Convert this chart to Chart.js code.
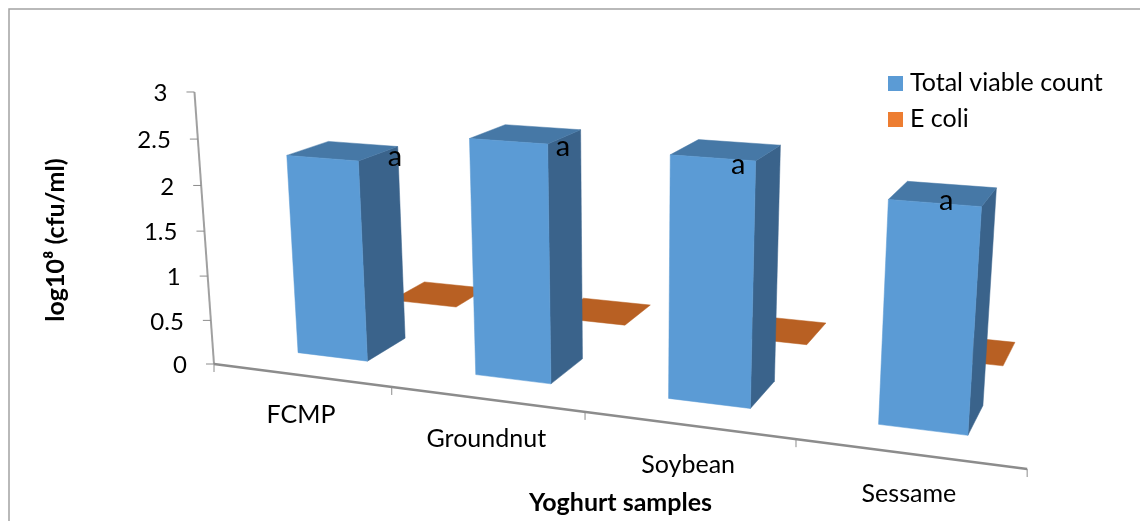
<!DOCTYPE html>
<html>
<head>
<meta charset="utf-8">
<title>Yoghurt samples</title>
<script src="https://cdn.jsdelivr.net/npm/chart.js@4"></script>
<style>
  html, body { margin: 0; padding: 0; background: #fff; }
  canvas { display: block; }
</style>
</head>
<body>
<canvas id="yoghurt-chart" width="1140" height="521"></canvas>
<script>
const categories = ["FCMP", "Groundnut", "Soybean", "Sessame"];
const totalViable = [2.25, 2.58, 2.56, 2.28];
const eColi = [0, 0, 0, 0];
const barLetters = ["a", "a", "a", "a"];

// pixel nudges of the letters from the middle of each bar top
const letterNudge = [[52, 6], [37, 13], [12, 15], [3, 7]];

// depth rows of the two series on the floor, front and back
const depthRows = { total: [0.355, 0.83], coli: [1.55, 2.03] };

const FONT = "Lato";
const AXIS_GREY = "#8c8c8c";

// perspective camera: u = category units, v = value, d = depth
function project(u, v, d) {
  const w = 1 - 0.0402 * u - 0.015 * v + 0.1 * d;
  return {
    x: (214 + 162 * u - 9.43 * v + (122 + 2 * (u - 1.5)) * d) / w,
    y: (364 + 7.4 * u - 92.05 * v - 15 * d) / w,
  };
}

function face(ctx, pts, color) {
  ctx.beginPath();
  pts.forEach((p, i) => (i ? ctx.lineTo(p.x, p.y) : ctx.moveTo(p.x, p.y)));
  ctx.closePath();
  ctx.fillStyle = color;
  ctx.strokeStyle = color;
  ctx.lineWidth = 0.5;
  ctx.fill();
  ctx.stroke();
}

function line(ctx, a, b, width, color) {
  ctx.beginPath();
  ctx.moveTo(a.x, a.y);
  ctx.lineTo(b.x, b.y);
  ctx.lineWidth = width;
  ctx.strokeStyle = color;
  ctx.stroke();
}

function text(ctx, str, x, y, font, align) {
  ctx.font = font;
  ctx.fillStyle = "#000";
  ctx.textAlign = align || "center";
  ctx.textBaseline = "middle";
  ctx.fillText(str, x, y);
}

const perspectiveBars = {
  id: "perspectiveBars",
  beforeDatasetsDraw(chart) {
    const { ctx, chartArea, scales } = chart;
    const n = categories.length;
    const toU = (px) => ((px - chartArea.left) / chartArea.width) * n;

    // frame
    ctx.save();
    ctx.beginPath();
    ctx.moveTo(9, 521);
    ctx.lineTo(9, 9);
    ctx.lineTo(1140, 9);
    ctx.lineWidth = 1.5;
    ctx.strokeStyle = "#a3a3a3";
    ctx.stroke();

    // value axis
    line(ctx, project(0, 0, 0), project(0, 3, 0), 2, "#a0a0a0");
    scales.y.ticks.forEach((tick) => {
      const p = project(0, tick.value, 0);
      line(ctx, { x: p.x - 8, y: p.y }, p, 1, AXIS_GREY);
      text(ctx, tick.label, p.x - 27, p.y + 1.5, `24px ${FONT}`, "right");
    });

    // category axis
    line(ctx, project(0, 0, 0), project(n, 0, 0), 2.5, AXIS_GREY);
    for (let i = 0; i <= n; i++) {
      const p = project(i, 0, 0);
      line(ctx, p, { x: p.x, y: p.y + 8 }, 1, AXIS_GREY);
    }
    categories.forEach((name, i) => {
      const p = project(i + 0.5, 0, 0);
      text(ctx, name, p.x, p.y + 40, `25px ${FONT}`);
    });

    // E coli row lies behind the blue bars
    const coli = chart.getDatasetMeta(1).data;
    coli.forEach((el) => {
      const u0 = toU(el.x - el.width / 2);
      const u1 = toU(el.x + el.width / 2);
      const v = scales.y.getValueForPixel(el.y);
      const [d0, d1] = depthRows.coli;
      face(ctx, [project(u0, v, d0), project(u1, v, d0), project(u1, v, d1), project(u0, v, d1)], "#b86023");
    });

    const total = chart.getDatasetMeta(0).data;
    total.forEach((el) => {
      const u0 = toU(el.x - el.width / 2);
      const u1 = toU(el.x + el.width / 2);
      const v = scales.y.getValueForPixel(el.y);
      const [d0, d1] = depthRows.total;
      face(ctx, [project(u1, 0, d0), project(u1, 0, d1), project(u1, v, d1), project(u1, v, d0)], "#3a638b");
      face(ctx, [project(u0, v, d0), project(u1, v, d0), project(u1, v, d1), project(u0, v, d1)], "#4678a6");
      face(ctx, [project(u0, 0, d0), project(u1, 0, d0), project(u1, v, d0), project(u0, v, d0)], "#5b9bd5");
    });
    total.forEach((el, i) => {
      const v = scales.y.getValueForPixel(el.y);
      const c = project(toU(el.x), v, (depthRows.total[0] + depthRows.total[1]) / 2);
      text(ctx, barLetters[i], c.x + letterNudge[i][0], c.y + letterNudge[i][1], `29px ${FONT}`);
    });

    // legend
    chart.data.datasets.forEach((ds, i) => {
      const y = 76 + i * 36;
      ctx.fillStyle = ds.backgroundColor;
      ctx.fillRect(888, y, 15, 15);
      text(ctx, ds.label, 910, y + 7, `25px ${FONT}`, "left");
    });

    // axis titles
    text(ctx, "Yoghurt samples", 620.5, 503, `bold 25px ${FONT}`);
    ctx.translate(56, 240);
    ctx.rotate(-Math.PI / 2);
    text(ctx, "log10\u2078 (cfu/ml)", 0, 0, `bold 25px ${FONT}`);
    ctx.restore();
    return false;
  },
};

new Chart(document.getElementById("yoghurt-chart"), {
  type: "bar",
  data: {
    labels: categories,
    datasets: [
      { label: "Total viable count", data: totalViable, backgroundColor: "#5b9bd5", grouped: false, barPercentage: 0.4, categoryPercentage: 1 },
      { label: "E coli", data: eColi, backgroundColor: "#ed7d31", grouped: false, barPercentage: 0.4, categoryPercentage: 1 },
    ],
  },
  options: {
    responsive: false,
    animation: false,
    plugins: { legend: { display: false }, tooltip: { enabled: false } },
    scales: {
      x: { display: false },
      y: { display: false, min: 0, max: 3, ticks: { stepSize: 0.5, callback: (v) => String(v) } },
    },
  },
  plugins: [perspectiveBars],
});
</script>
</body>
</html>
